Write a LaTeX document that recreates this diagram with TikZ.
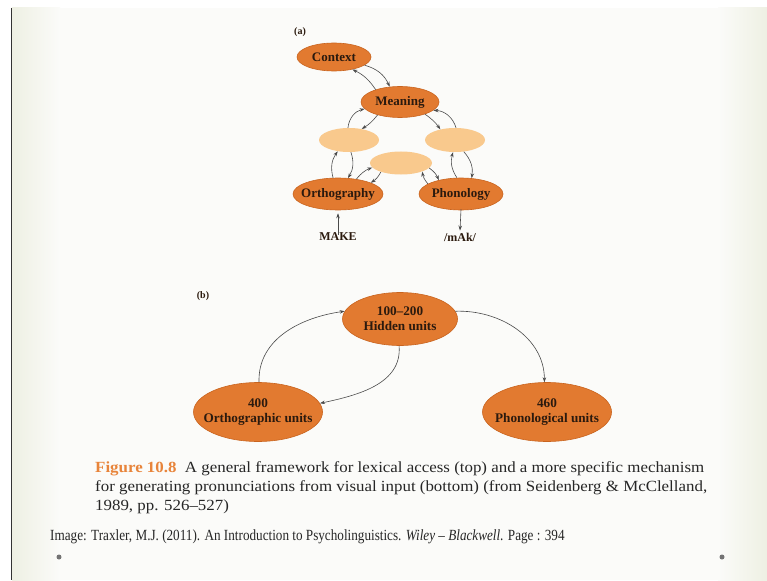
\documentclass[tikz,border=0pt]{standalone}
\usepackage{fontspec}
\setmainfont{Liberation Serif}
\usetikzlibrary{arrows.meta,shapes.geometric}
\definecolor{darkor}{HTML}{E27A30}
\definecolor{darkedge}{HTML}{C9641F}
\definecolor{lightor}{HTML}{F9C98D}
\definecolor{labtext}{HTML}{2B1A0E}
\definecolor{capor}{HTML}{E8843A}
\definecolor{arr}{HTML}{4A4A4A}
\definecolor{slidebg}{HTML}{FBFBF9}
\definecolor{edgegreen}{HTML}{EEF0E3}
\tikzset{
  darknode/.style={ellipse, fill=darkor, draw=darkedge, line width=0.6pt, inner sep=0pt},
  lightnode/.style={ellipse, fill=lightor, draw=none, inner sep=0pt, minimum width=60pt, minimum height=24pt},
  conn/.style={draw=arr, line width=0.6pt, -{Stealth[length=5pt,width=3.5pt]}},
  plain/.style={text=labtext, inner sep=0pt},
  atext/.style={label={[text=labtext, inner sep=0pt, font=\fontsize{13}{15}\selectfont\bfseries]center:#1}},
  btext/.style={label={[text=labtext, inner sep=0pt, align=center, font=\fontsize{13.2}{15}\selectfont\bfseries]center:#1}},
}
\begin{document}
\begin{tikzpicture}[x=1pt,y=-1pt]
\useasboundingbox (0,0) rectangle (767,580);
% background
\fill[white] (0,0) rectangle (767,580);
\fill[slidebg] (12,8) rectangle (767,580);
\shade[left color=edgegreen, right color=slidebg] (12,8) rectangle (60,580);
\shade[left color=slidebg, right color=edgegreen] (718,8) rectangle (767,580);
\draw[black!80, line width=1.2pt] (11.5,8) -- (11.5,580);
\fill[black!55] (59,557) circle (2.5pt);
\fill[black!55] (722,557) circle (2.5pt);

% ---------- (a) ----------
\node[plain, font=\fontsize{10}{12}\selectfont\bfseries] (la) at (300,32) {(a)};
\node[darknode, atext={Context}, minimum width=74pt, minimum height=28pt] (context) at (334,57) {};
\node[darknode, atext={Meaning}, minimum width=78pt, minimum height=31pt] (meaning) at (400,102) {};
\node[lightnode] (hl) at (349,140) {};
\node[lightnode] (hr) at (455,140) {};
\node[lightnode, minimum width=62pt, minimum height=23pt] (hm) at (401,163) {};
\node[darknode, atext={Orthography}, minimum width=90pt, minimum height=32pt] (orth) at (338,194) {};
\node[darknode, atext={Phonology}, minimum width=84pt, minimum height=32pt] (phon) at (461,194) {};
\node[plain, font=\fontsize{12}{14}\selectfont\bfseries] (make) at (338,237) {MAKE};
\node[plain, font=\fontsize{12}{14}\selectfont\bfseries] (mak) at (460,237) {/mAk/};

\draw[conn] (meaning.153) to[bend right=15] (context.326);
\draw[conn] (context.345) to[bend left=25] (meaning.124);
\draw[conn] (hl.95) to[bend left=35] (meaning.191);
\draw[conn] (meaning.210) to[bend left=10] (hl.41);
\draw[conn] (meaning.334) to[bend left=10] (hr.144);
\draw[conn] (hr.85) to[bend right=35] (meaning.346);
\draw[conn] (orth.107) to[bend left=25] (hl.225);
\draw[conn] (hl.279) to[bend left=25] (orth.58);
\draw[conn] (orth.39) to[bend left=15] (hm.189);
\draw[conn] (hm.204) to[bend left=15] (orth.19);
\draw[conn] (phon.163) to[bend left=15] (hm.338);
\draw[conn] (hm.350) to[bend left=15] (phon.148);
\draw[conn] (phon.104) to[bend left=25] (hr.261);
\draw[conn] (hr.307) to[bend left=25] (phon.56);
\draw[conn] ([yshift=-2pt]make.north) -- ([yshift=-3pt]orth.south);
\draw[conn] ([yshift=1pt]phon.south) -- ([yshift=2pt]mak.north);

% ---------- (b) ----------
\node[plain, font=\fontsize{10}{12}\selectfont\bfseries] (lb) at (203,296) {(b)};
\node[darknode, btext={100--200\\Hidden units}, minimum width=115pt, minimum height=53pt] (hid) at (400,319) {};
\node[darknode, btext={400\\Orthographic units}, minimum width=129pt, minimum height=59pt] (ortu) at (258,412) {};
\node[darknode, btext={460\\Phonological units}, minimum width=129pt, minimum height=59pt] (phou) at (547,412) {};
\draw[conn] (ortu.88) to[out=92,in=188] (hid.172);
\draw[conn] (hid.268) to[out=-85,in=12] (ortu.8);
\draw[conn] (hid.8) to[out=2,in=90] (phou.95);

% ---------- caption ----------
\node[anchor=west, inner sep=0pt, text=black!85] (cap) at (95,488)
 {\scalebox{1.09}[1]{\fontsize{15.5}{19}\selectfont\begin{tabular}{@{}l@{}}
  {\color{capor}\bfseries Figure 10.8}\enspace A general framework for lexical access (top) and a more specific mechanism\\
  for generating pronunciations from visual input (bottom) (from Seidenberg \& McClelland,\\
  1989, pp. 526--527)\end{tabular}}};
\node[anchor=west, inner sep=0pt, text=black!85] (credit) at (50,537)
 {\scalebox{0.85}[1]{\fontsize{15.5}{17}\selectfont Image: Traxler, M.J. (2011). An Introduction to Psycholinguistics. \textit{Wiley -- Blackwell}. Page : 394}};
\end{tikzpicture}
\end{document}
